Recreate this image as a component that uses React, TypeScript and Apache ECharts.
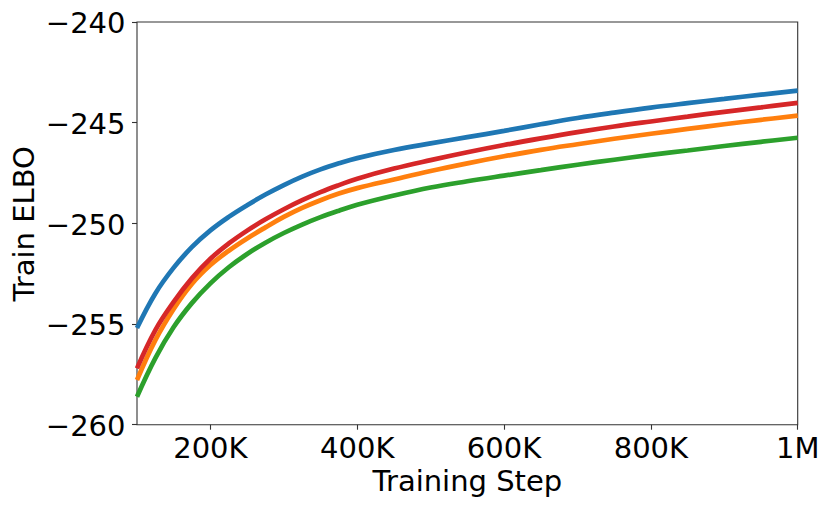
import React, { useEffect, useRef } from "react";
import * as echarts from "echarts";

const steps = [100000, 125000, 150000, 175000, 200000, 225000, 250000, 275000, 300000, 325000, 350000, 375000, 400000, 450000, 500000, 550000, 600000, 650000, 700000, 750000, 800000, 850000, 900000, 950000, 1000000];
const blueValues = [-255.2, -253.48, -252.2, -251.17, -250.35, -249.68, -249.1, -248.57, -248.1, -247.68, -247.32, -247.02, -246.76, -246.36, -246.03, -245.72, -245.41, -245.08, -244.77, -244.5, -244.25, -244.03, -243.82, -243.61, -243.41];
const orangeValues = [-257.78, -255.8, -254.25, -253.0, -252.07, -251.36, -250.75, -250.2, -249.68, -249.23, -248.85, -248.52, -248.25, -247.82, -247.4, -247.02, -246.67, -246.35, -246.07, -245.8, -245.55, -245.31, -245.08, -244.86, -244.65];
const greenValues = [-258.61, -256.69, -255.15, -253.95, -252.98, -252.18, -251.52, -250.96, -250.48, -250.06, -249.69, -249.37, -249.08, -248.62, -248.22, -247.91, -247.63, -247.36, -247.09, -246.84, -246.6, -246.38, -246.16, -245.95, -245.75];
const redValues = [-257.2, -255.3, -253.9, -252.72, -251.76, -251.0, -250.36, -249.8, -249.3, -248.85, -248.45, -248.1, -247.78, -247.28, -246.86, -246.47, -246.11, -245.78, -245.47, -245.19, -244.94, -244.7, -244.46, -244.24, -244.02];
const xTicks = [200000, 400000, 600000, 800000, 1000000];
const yTicks = [-260, -255, -250, -245, -240];
const xTitle = "Training Step";
const yTitle = "Train ELBO";

const FONT = "DejaVu Sans";
const FS = 29;

const fmtX = (v: number) => (v >= 1000000 ? v / 1000000 + "M" : v / 1000 + "K");
const fmtY = (v: number) => (v < 0 ? "\u2212" + Math.abs(v) : String(v));

export default function App() {
  const ref = useRef<HTMLDivElement>(null);
  useEffect(() => {
    if (!ref.current) return;
    const chart = echarts.init(ref.current, undefined, { renderer: "svg" });
    const mk = (name: string, vals: number[], color: string) => ({
      name,
      type: "line",
      data: steps.map((s, i) => [s, vals[i]]),
      showSymbol: false,
      smooth: 0.4,
      lineStyle: { color, width: 4.7 },
      itemStyle: { color },
    });
    const tick = (vals: number[]) => ({
      show: true,
      length: 5,
      inside: false,
      customValues: vals,
      lineStyle: { color: "#333", width: 1.1 },
    });
    chart.setOption({
      animation: false,
      backgroundColor: "#ffffff",
      grid: {
        left: 137,
        top: 22,
        width: 660.7,
        height: 402.7,
        show: true,
        borderColor: "#333",
        borderWidth: 1.1,
        backgroundColor: "transparent",
      },
      xAxis: {
        type: "value",
        min: 100000,
        max: 1000000,
        interval: 100000,
        axisLine: { show: false },
        splitLine: { show: false },
        axisTick: tick(xTicks),
        axisLabel: { show: false },
      },
      yAxis: {
        type: "value",
        min: -260,
        max: -240,
        interval: 5,
        axisLine: { show: false },
        splitLine: { show: false },
        axisTick: tick(yTicks),
        axisLabel: { show: false },
      },
      series: [
        mk("blue", blueValues, "#1f77b4"),
        mk("orange", orangeValues, "#ff7f0e"),
        mk("green", greenValues, "#2ca02c"),
        mk("red", redValues, "#d62728"),
      ],
    });

    // Tick labels and titles placed through the chart's own scales.
    const finder = { xAxisIndex: 0, yAxisIndex: 0 };
    const xMin = 100000;
    const xMax = 1000000;
    const yMin = -260;
    const yMax = -240;
    const txt = (text: string, x: number, y: number, align: string, rotation = 0) => ({
      type: "text",
      x,
      y,
      rotation,
      silent: true,
      style: {
        text,
        fontFamily: FONT,
        fontSize: FS,
        fill: "#000",
        textAlign: align,
        textVerticalAlign: "middle",
      },
    });
    const els: any[] = [];
    xTicks.forEach((v) => {
      const p = chart.convertToPixel(finder, [v, yMin]) as number[];
      els.push(txt(fmtX(v), p[0], p[1] + 23, "center"));
    });
    yTicks.forEach((v) => {
      const p = chart.convertToPixel(finder, [xMin, v]) as number[];
      els.push(txt(fmtY(v), p[0] - 11.5, p[1] + 1.3, "right"));
    });
    const bl = chart.convertToPixel(finder, [xMin, yMin]) as number[];
    const tr = chart.convertToPixel(finder, [xMax, yMax]) as number[];
    els.push(txt(xTitle, (bl[0] + tr[0]) / 2, bl[1] + 56.5, "center"));
    els.push(txt(yTitle, bl[0] - 113.5, (bl[1] + tr[1]) / 2 + 0.5, "center", Math.PI / 2));
    chart.setOption({ graphic: els });

    return () => chart.dispose();
  }, []);
  return (
    <div
      ref={ref}
      style={{ position: "fixed", left: 0, top: 0, width: 831, height: 509, background: "#fff" }}
    />
  );
}
